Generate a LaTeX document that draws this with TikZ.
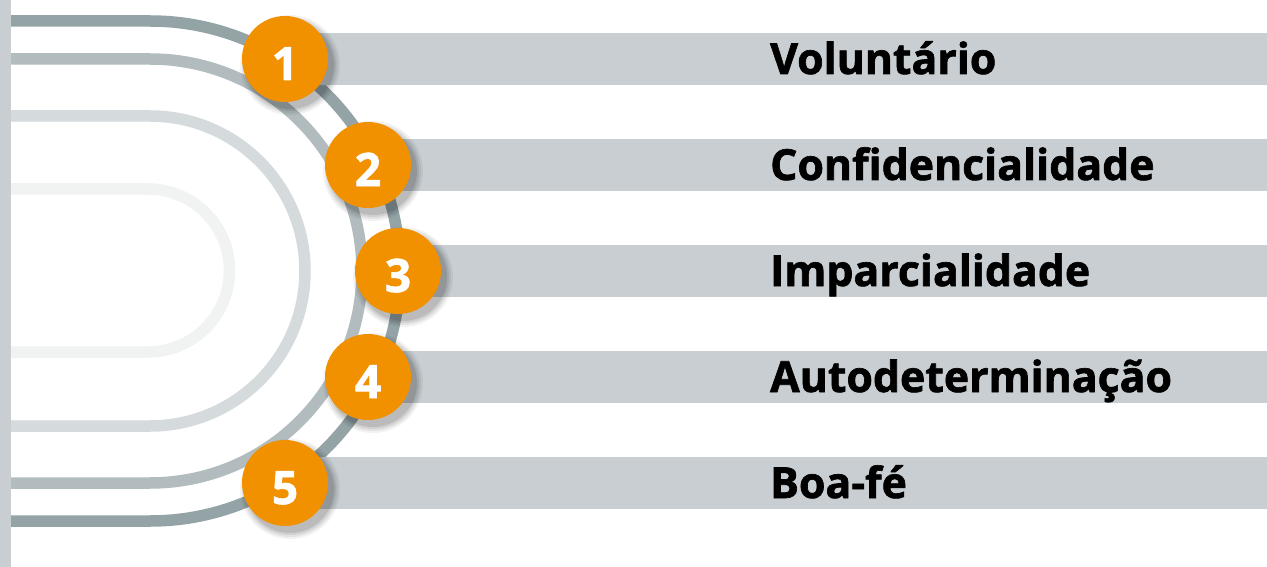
\documentclass[tikz,border=0pt]{standalone}
\usepackage{fontspec}
\setmainfont{Open Sans}
\newfontfamily\heavy[FakeBold=1.5]{Open Sans Bold}
\usetikzlibrary{calc}
\definecolor{barc}{HTML}{C8CED1}
\definecolor{arcA}{HTML}{93A3A6}
\definecolor{arcB}{HTML}{B2BCBE}
\definecolor{arcC}{HTML}{D5DADC}
\definecolor{arcD}{HTML}{F1F3F3}
\definecolor{orng}{HTML}{F29100}
\tikzset{
  arcline/.style={line width=11.5pt},
  band/.style={fill=barc, draw=none},
  numcirc/.style={circle, fill=orng, minimum size=86pt, inner sep=0pt},
  numtxt/.style={anchor=base, inner sep=0pt, text=white, font=\fontsize{46}{46}\selectfont\heavy},
  lbl/.style={anchor=base west, inner sep=0pt, font=\fontsize{42.8}{42.8}\selectfont\heavy},
}
\begin{document}
\begin{tikzpicture}[x=1pt,y=1pt]
\useasboundingbox (0,0) rectangle (1267,-567);
\fill[white] (0,0) rectangle (1267,-567);
% left bar
\fill[barc] (0,0) rectangle (11,-567);
% D-shaped arcs
\draw[arcline, arcD] (11,-189) -- (148,-189) arc[start angle=90, end angle=-90, radius=81.5] -- (11,-352);
\draw[arcline, arcC] (11,-116) -- (150,-116) arc[start angle=90, end angle=-90, radius=155] -- (11,-426);
\draw[arcline, arcB] (11,-59) -- (150,-59) arc[start angle=90, end angle=-90, radius=212] -- (11,-483);
\draw[arcline, arcA] (11,-21) -- (150,-21) arc[start angle=90, end angle=-90, radius=250] -- (11,-521);
% items
\foreach \i/\cx/\cy/\t in {1/285/59/Voluntário, 2/368/165/Confidencialidade, 3/398/271/Imparcialidade, 4/368/377/Autodeterminação, 5/285/483/Boa-fé}{
  \fill[band] (\cx,-\cy+26) rectangle (1267,-\cy-26);
  \foreach \r/\o in {50/0.05,48/0.06,46/0.08,44/0.10}{
    \fill[black, opacity=\o] (\cx+5,-\cy-6) circle[radius=\r];
  }
  \node[numcirc] (c\i) at (\cx,-\cy) {};
  \node[numtxt] (n\i) at (\cx,-\cy-21) {\i};
  \node[lbl] (t\i) at (770,-\cy-15) {\t};
}
\end{tikzpicture}
\end{document}
